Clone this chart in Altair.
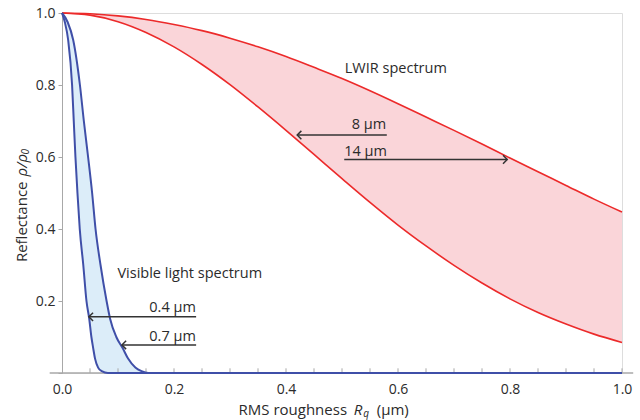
import altair as alt
import pandas as pd

# ---------------- data ----------------
# LWIR band (red): reflectance vs RMS roughness for 8 µm and 14 µm
RQ = [0.0, 0.05, 0.1, 0.15, 0.2, 0.25, 0.3, 0.35, 0.4, 0.45, 0.5,
      0.55, 0.6, 0.65, 0.7, 0.75, 0.8, 0.85, 0.9, 0.95, 1.0]
R_8UM = [1.0, 0.994, 0.976, 0.946, 0.906, 0.857, 0.801, 0.739, 0.674, 0.607, 0.540,
         0.474, 0.411, 0.353, 0.299, 0.250, 0.206, 0.168, 0.136, 0.108, 0.085]
R_14UM = [1.0, 0.998, 0.992, 0.982, 0.968, 0.951, 0.930, 0.906, 0.879, 0.849, 0.818,
          0.784, 0.748, 0.711, 0.674, 0.636, 0.597, 0.559, 0.521, 0.483, 0.447]

# Visible band (blue): roughness read at given reflectance levels
VIS_LEVELS = [1.0, 0.975, 0.925, 0.8, 0.7, 0.6, 0.5, 0.4, 0.3, 0.2, 0.15,
              0.1, 0.07, 0.04, 0.015, 0.005, 0.0]
RQ_04UM = [0.0, 0.005, 0.011, 0.018, 0.021, 0.024, 0.0276, 0.0317, 0.038, 0.0437, 0.0487,
           0.0525, 0.0556, 0.059, 0.0645, 0.071, 0.082]
RQ_07UM = [0.0, 0.010, 0.020, 0.032, 0.039, 0.0466, 0.0538, 0.0599, 0.0688, 0.0796, 0.086,
           0.097, 0.108, 0.118, 0.131, 0.142, 0.154]
RQ_MAX = 1.0

# Annotations
LABELS = ["LWIR spectrum", "8 µm", "14 µm", "Visible light spectrum", "0.4 µm", "0.7 µm"]
LABEL_X = [0.505, 0.579, 0.504, 0.099, 0.239, 0.239]
LABEL_Y = [0.844, 0.689, 0.615, 0.276, 0.181, 0.100]
LABEL_ALIGN = ["left", "right", "left", "left", "right", "right"]

ARROW_FROM = [0.580, 0.504, 0.2395, 0.2395]
ARROW_TO = [0.420, 0.795, 0.048, 0.107]
ARROW_Y = [0.661, 0.593, 0.156, 0.078]
ARROW_DIR = ["left", "right", "left", "left"]

X_TICK_LABELS = [0.0, 0.2, 0.4, 0.6, 0.8, 1.0]
X_MINOR = [0.05, 0.1, 0.15, 0.2, 0.25, 0.3, 0.35, 0.4, 0.45, 0.5,
           0.55, 0.6, 0.65, 0.7, 0.75, 0.8, 0.85, 0.9, 0.95, 1.0]
Y_TICKS = [0.0, 0.05, 0.1, 0.15, 0.2, 0.25, 0.3, 0.35, 0.4, 0.45, 0.5,
           0.55, 0.6, 0.65, 0.7, 0.75, 0.8, 0.85, 0.9, 0.95, 1.0]

# ---------------- styling ----------------
FONT = "Open Sans"
TXT = "#2b2b2b"
AXIS_GRAY = "#a8a8a8"
RED = "#ec2a2a"
PINK = "#fad5d9"
BLUE = "#3f4fa8"
LIGHTBLUE = "#dcedf9"

xs = alt.Scale(domain=[0, 1])
ys = alt.Scale(domain=[0, 1])

red_df = pd.DataFrame({"rq": RQ, "r8": R_8UM, "r14": R_14UM})
red_long = pd.concat([
    pd.DataFrame({"rq": RQ, "r": R_8UM, "s": "8"}),
    pd.DataFrame({"rq": RQ, "r": R_14UM, "s": "14"}),
])
blue_df = pd.DataFrame({"lvl": VIS_LEVELS, "a": RQ_04UM, "b": RQ_07UM})
blue_long = pd.concat([
    pd.DataFrame({"rq": RQ_04UM + [RQ_MAX], "r": VIS_LEVELS + [0.0], "s": "0.4",
                  "i": list(range(len(VIS_LEVELS) + 1))}),
    pd.DataFrame({"rq": RQ_07UM + [RQ_MAX], "r": VIS_LEVELS + [0.0], "s": "0.7",
                  "i": list(range(len(VIS_LEVELS) + 1))}),
])

x_axis = alt.Axis(values=X_TICK_LABELS, format=".1f", ticks=False, domain=False,
                  grid=False, labelPadding=9, labelFlush=False, title=None,
                  labelFont=FONT, labelFontSize=14, labelColor=TXT)
y_axis = alt.Axis(values=Y_TICKS, grid=False, domain=True, domainColor=AXIS_GRAY,
                  tickColor=AXIS_GRAY, tickSize=4, labelPadding=3, title=None,
                  labelExpr="datum.value > 0.01 && abs(datum.value*5 - round(datum.value*5)) < 0.001 ? format(datum.value, '.1f') : ''",
                  labelFont=FONT, labelFontSize=14, labelColor=TXT)

red_area = alt.Chart(red_df).mark_area(color=PINK, interpolate="monotone").encode(
    x=alt.X("rq:Q", scale=xs, axis=x_axis),
    y=alt.Y("r8:Q", scale=ys, axis=y_axis),
    y2="r14:Q",
)
blue_area = alt.Chart(blue_df).mark_area(color=LIGHTBLUE, orient="horizontal",
                                        interpolate="monotone").encode(
    y=alt.Y("lvl:Q", scale=ys),
    x=alt.X("a:Q", scale=xs),
    x2="b:Q",
)

# x axis line (extends slightly past the plot) and inward ticks
axis_line = alt.Chart(pd.DataFrame({"x0": [-0.022], "x1": [1.02], "y": [0.0]})).mark_rule(
    color=AXIS_GRAY, strokeWidth=1.5).encode(
    x=alt.X("x0:Q", scale=xs), x2="x1:Q", y=alt.Y("y:Q", scale=ys))
x_ticks = alt.Chart(pd.DataFrame({"x": X_MINOR, "y0": 0.0, "y1": 0.013})).mark_rule(
    color=AXIS_GRAY, strokeWidth=1).encode(
    x=alt.X("x:Q", scale=xs), y=alt.Y("y0:Q", scale=ys), y2="y1:Q")

red_lines = alt.Chart(red_long).mark_line(color=RED, strokeWidth=1.6,
                                          interpolate="monotone").encode(
    x=alt.X("rq:Q", scale=xs), y=alt.Y("r:Q", scale=ys), detail="s:N")
blue_lines = alt.Chart(blue_long).mark_line(color=BLUE, strokeWidth=2,
                                            interpolate="monotone").encode(
    x=alt.X("rq:Q", scale=xs), y=alt.Y("r:Q", scale=ys), detail="s:N",
    order="i:Q")

arrows_df = pd.DataFrame({"x0": ARROW_FROM, "x1": ARROW_TO, "y": ARROW_Y, "d": ARROW_DIR})
arrow_rules = alt.Chart(arrows_df).mark_rule(color="#333333", strokeWidth=1.5).encode(
    x=alt.X("x0:Q", scale=xs), x2="x1:Q", y=alt.Y("y:Q", scale=ys))
heads_left = alt.Chart(arrows_df).transform_filter("datum.d == 'left'").mark_point(
    shape="M1,-1L0,0L1,1", filled=False, size=70, color="#333333", strokeWidth=1.5,
    opacity=1).encode(x=alt.X("x1:Q", scale=xs), y=alt.Y("y:Q", scale=ys))
heads_right = alt.Chart(arrows_df).transform_filter("datum.d == 'right'").mark_point(
    shape="M-1,-1L0,0L-1,1", filled=False, size=70, color="#333333", strokeWidth=1.5,
    opacity=1).encode(x=alt.X("x1:Q", scale=xs), y=alt.Y("y:Q", scale=ys))

lab_df = pd.DataFrame({"t": LABELS, "x": LABEL_X, "y": LABEL_Y, "al": LABEL_ALIGN})
labels = []
for al in ["left", "right"]:
    labels.append(alt.Chart(lab_df).transform_filter(f"datum.al == '{al}'").mark_text(
        align=al, baseline="middle", font=FONT, fontSize=14.5, color=TXT).encode(
        x=alt.X("x:Q", scale=xs), y=alt.Y("y:Q", scale=ys), text="t:N"))

# axis titles composed from pieces (italic symbols, subscripts)
def piece(text, x, y, align="left", italic=False, size=15, dy=0, dx=0, angle=0):
    return alt.Chart(pd.DataFrame({"t": [text], "x": [x], "y": [y]})).mark_text(
        align=align, baseline="middle", font=FONT, fontSize=size,
        fontStyle="italic" if italic else "normal", color=TXT, dy=dy, dx=dx,
        angle=angle).encode(x=alt.X("x:Q", scale=xs), y=alt.Y("y:Q", scale=ys), text="t:N")

titles = [
    piece("RMS roughness", 0.509, -0.103, align="right"),
    piece("R", 0.521, -0.103, italic=True),
    piece("q", 0.538, -0.103, italic=True, size=10, dy=4),
    piece("(µm)", 0.562, -0.103),
    piece("Reflectance", -0.072, 0.308, angle=270),
    piece("ρ/ρ", -0.072, 0.546, italic=True, angle=270),
    piece("0", -0.072, 0.607, italic=True, size=10, dy=4, angle=270),
]

chart = alt.layer(
    red_area, blue_area, axis_line, x_ticks, red_lines, blue_lines,
    arrow_rules, heads_left, heads_right, *labels, *titles,
).properties(
    width=560, height=360,
    autosize=alt.AutoSizeParams(type="none"),
    padding={"left": 62, "top": 13, "right": 18, "bottom": 47},
).configure_view(stroke=None).configure(background="white")

chart.save("out.html", embed_options={"renderer": "svg", "actions": False})
